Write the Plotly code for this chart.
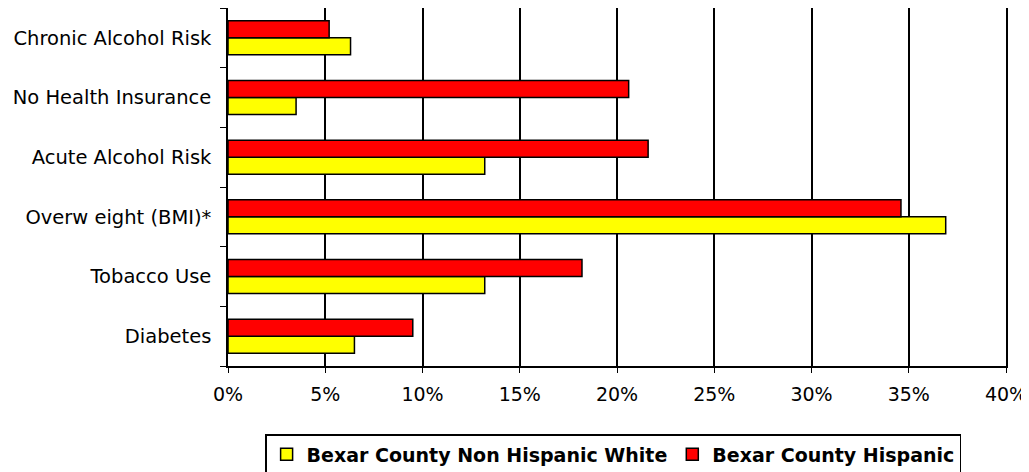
import plotly.graph_objects as go

# Categories listed bottom-to-top
categories = ["Diabetes", "Tobacco Use", "Overw eight (BMI)*",
              "Acute Alcohol Risk", "No Health Insurance", "Chronic Alcohol Risk"]
non_hispanic_white = [6.5, 13.2, 36.9, 13.2, 3.5, 6.3]
hispanic = [9.5, 18.2, 34.6, 21.6, 20.6, 5.2]
x_ticks = [0, 5, 10, 15, 20, 25, 30, 35, 40]
x_tick_labels = [f"{v}%" for v in x_ticks]

fig = go.Figure()
fig.add_trace(go.Bar(
    y=categories, x=non_hispanic_white, orientation="h",
    name="Bexar County Non Hispanic White",
    marker=dict(color="#FFFF00", line=dict(color="black", width=1.5)),
))
fig.add_trace(go.Bar(
    y=categories, x=hispanic, orientation="h",
    name="Bexar County Hispanic",
    marker=dict(color="#FF0000", line=dict(color="black", width=1.5)),
))

# The page body has an 8px default margin, so the figure is sized to fit
fig.update_layout(
    width=1021, height=464,
    margin=dict(l=220, r=23, t=0, b=106, autoexpand=False),
    paper_bgcolor="white", plot_bgcolor="white",
    barmode="group", bargap=0.43, bargroupgap=0,
    font=dict(family="DejaVu Sans", size=19.5, color="black"),
    showlegend=True,
    legend=dict(
        orientation="h", x=0.495, xanchor="center", y=-0.19, yanchor="top",
        bordercolor="black", borderwidth=1.5,
        font=dict(family="DejaVu Sans", size=19, color="black", weight="bold"),
        itemwidth=30, traceorder="normal",
    ),
    xaxis=dict(
        range=[0, 40], tickvals=x_ticks, ticktext=x_tick_labels,
        tickfont=dict(size=19),
        showgrid=True, gridcolor="black", gridwidth=1.5,
        showline=True, linecolor="black", linewidth=1.5, mirror=True,
        ticks="outside", ticklen=5, tickcolor="black",
        ticklabelstandoff=5, zeroline=False, automargin=False,
    ),
    yaxis=dict(
        categoryorder="array", categoryarray=categories,
        showline=True, linecolor="black", linewidth=1.5, mirror=True,
        ticks="outside", ticklen=6, tickcolor="black", tickson="boundaries",
        ticklabelstandoff=11, showgrid=False, automargin=False,
    ),
)

fig.write_html("out.html")
